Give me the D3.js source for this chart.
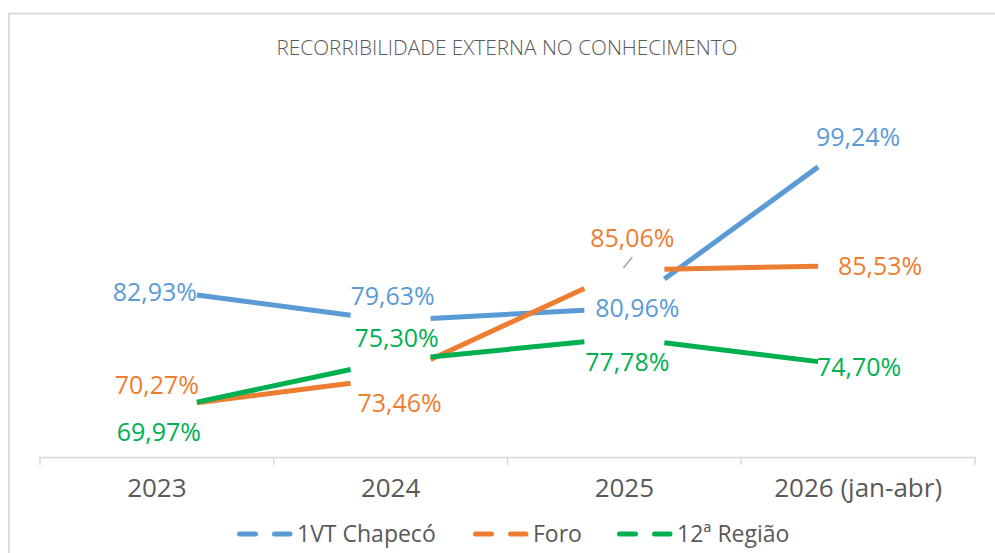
<!DOCTYPE html>
<html>
<head>
<meta charset="utf-8">
<script src="https://cdn.jsdelivr.net/npm/d3@7"></script>
<style>
body { margin: 0; background: #fff; }
svg { display: block; font-family: "Open Sans", "Noto Sans", sans-serif; }
</style>
</head>
<body>
<div id="chart"></div>
<script>
var categories = ["2023", "2024", "2025", "2026 (jan-abr)"];
var seriesNames = ["1VT Chapecó", "Foro", "12ª Região"];
var chapeco = [82.93, 79.63, 80.96, 99.24];
var foro = [70.27, 73.46, 85.06, 85.53];
var regiao = [69.97, 75.30, 77.78, 74.70];
var colors = ["#5b9bd5", "#ed7d31", "#00b050"];

// label offsets from the point (layout only)
var labelOffsets = [
    [[-2, 2], [2, -25], [13, 0], [0, -1]],
    [[0, -23], [9, 25], [8, -32], [22, 0]],
    [[2, 21], [6, -23], [3, 24], [1, 0]]
];

var width = 995, height = 553;
var svg = d3.select("#chart").append("svg")
    .attr("width", width).attr("height", height);

// outer border
svg.append("path")
    .attr("d", "M9,553 L9,13.5 L995,13.5")
    .attr("fill", "none").attr("stroke", "#d9d9d9").attr("stroke-width", 2);

svg.append("text")
    .attr("x", 507).attr("y", 55)
    .attr("text-anchor", "middle")
    .attr("font-size", 20).attr("font-weight", 300)
    .attr("fill", "#595959")
    .attr("textLength", 461).attr("lengthAdjust", "spacingAndGlyphs")
    .text("RECORRIBILIDADE EXTERNA NO CONHECIMENTO");

var x = d3.scaleBand().domain(categories).range([40, 975]);
var y = d3.scaleLinear().domain([65, 105]).range([457, 84]);
function cx(c) { return x(c) + x.bandwidth() / 2; }

// x axis
var xAxis = svg.append("g").attr("transform", "translate(0,457)")
    .call(d3.axisBottom(x).tickSize(0).tickPadding(22));
xAxis.select(".domain").attr("stroke", "#d9d9d9").attr("stroke-width", 1.5);
xAxis.selectAll("text").attr("font-size", 26).attr("fill", "#595959")
    .attr("font-family", "Open Sans, sans-serif");
var bounds = categories.map(function(c){ return x(c); }).concat([x.range()[1]]);
xAxis.selectAll("line.bound").data(bounds).enter().append("line")
    .attr("class", "bound")
    .attr("x1", function(d){ return d; }).attr("x2", function(d){ return d; })
    .attr("y1", 0).attr("y2", 8)
    .attr("stroke", "#d9d9d9").attr("stroke-width", 1.5);

var series = [chapeco, foro, regiao];
var gap = 40;

// line segments, trimmed around each point
series.forEach(function(vals, s){
    var segs = [];
    for (var i = 0; i < vals.length - 1; i++) {
        var x0 = cx(categories[i]), y0 = y(vals[i]);
        var x1 = cx(categories[i+1]), y1 = y(vals[i+1]);
        var t = gap / (x1 - x0);
        segs.push([x0 + (x1 - x0) * t, y0 + (y1 - y0) * t,
                   x1 - (x1 - x0) * t, y1 - (y1 - y0) * t]);
    }
    svg.append("g").selectAll("line").data(segs).enter().append("line")
        .attr("x1", function(d){ return d[0]; }).attr("y1", function(d){ return d[1]; })
        .attr("x2", function(d){ return d[2]; }).attr("y2", function(d){ return d[3]; })
        .attr("stroke", colors[s]).attr("stroke-width", 5);
});

// leader line for the moved Foro 2025 label
svg.append("line")
    .attr("x1", cx("2025") - 1).attr("y1", y(foro[2]) - 2)
    .attr("x2", cx("2025") + 8).attr("y2", y(foro[2]) - 13)
    .attr("stroke", "#a6a6a6").attr("stroke-width", 1.5);

// data labels
series.forEach(function(vals, s){
    svg.append("g").selectAll("text").data(vals).enter().append("text")
        .attr("x", function(d, i){ return cx(categories[i]) + labelOffsets[s][i][0]; })
        .attr("y", function(d, i){ return y(d) + labelOffsets[s][i][1]; })
        .attr("dy", "0.36em")
        .attr("text-anchor", "middle")
        .attr("font-size", 25)
        .attr("fill", colors[s])
        .text(function(d){ return d.toFixed(2).replace(".", ",") + "%"; });
});

// legend
var legendItems = [
    {name: seriesNames[0], x: 237},
    {name: seriesNames[1], x: 473},
    {name: seriesNames[2], x: 617}
];
var legend = svg.append("g").attr("transform", "translate(0,534)");
legendItems.forEach(function(it, s){
    var g = legend.append("g").attr("transform", "translate(" + it.x + ",0)");
    g.append("line")
        .attr("x1", 2.5).attr("x2", 53).attr("y1", 0).attr("y2", 0)
        .attr("stroke", colors[s]).attr("stroke-width", 5)
        .attr("stroke-linecap", "round")
        .attr("stroke-dasharray", "16,19");
    g.append("text")
        .attr("x", 60).attr("y", 0).attr("dy", "0.36em")
        .attr("font-size", 23).attr("fill", "#595959")
        .text(it.name);
});
</script>
</body>
</html>
